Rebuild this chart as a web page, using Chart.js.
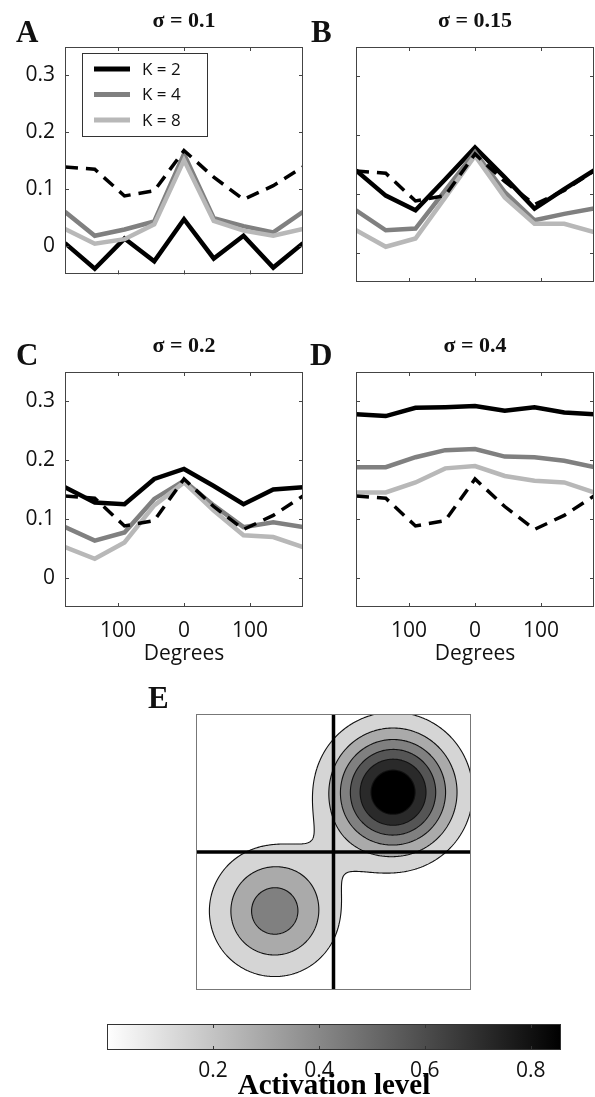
<!DOCTYPE html>
<html><head><meta charset="utf-8">
<script src="https://cdn.jsdelivr.net/npm/chart.js@4/dist/chart.umd.min.js"></script>
<style>
html,body{margin:0;padding:0;background:#fff;}
#page{position:relative;width:595px;height:1097px;overflow:hidden;background:#fff;}
canvas{position:absolute;display:block;}
</style></head><body><div id="page">
<canvas id="cA" width="305" height="297" style="left:0px;top:0px;width:305px;height:297px"></canvas>
<canvas id="cB" width="295" height="297" style="left:300px;top:0px;width:295px;height:297px"></canvas>
<canvas id="cC" width="305" height="342" style="left:0px;top:325px;width:305px;height:342px"></canvas>
<canvas id="cD" width="295" height="342" style="left:300px;top:325px;width:295px;height:342px"></canvas>
<canvas id="cE" width="340" height="324" style="left:140px;top:676px;width:340px;height:324px"></canvas>
<canvas id="cBar" width="505" height="97" style="left:90px;top:1000px;width:505px;height:97px"></canvas>
</div>
<script>
// ---------- data ----------
const angles = [-180, -135, -90, -45, 0, 45, 90, 135, 180];
const xTickValues = [-100, 0, 100];
const xTickLabels = ['100', '0', '100'];
const yTickValues = [0, 0.1, 0.2, 0.3];
const yTickLabels = ['0', '0.1', '0.2', '0.3'];
const seriesLabels = ['K = 2', 'K = 4', 'K = 8'];
const panelTitles = ['σ = 0.1', 'σ = 0.15', 'σ = 0.2', 'σ = 0.4'];
const panelLetters = ['A', 'B', 'C', 'D', 'E'];

const dashedRef = [0.139, 0.135, 0.088, 0.097, 0.168, 0.121, 0.082, 0.106, 0.139];

const k2A = [0.005, -0.040, 0.013, -0.027, 0.047, -0.022, 0.018, -0.038, 0.005];
const k4A = [0.060, 0.018, 0.029, 0.043, 0.162, 0.049, 0.035, 0.024, 0.060];
const k8A = [0.030, 0.004, 0.012, 0.038, 0.151, 0.044, 0.027, 0.018, 0.030];

const k2B = [0.140, 0.097, 0.072, 0.125, 0.179, 0.128, 0.075, 0.108, 0.140];
const k4B = [0.072, 0.038, 0.041, 0.106, 0.171, 0.103, 0.055, 0.066, 0.075];
const k8B = [0.038, 0.010, 0.024, 0.094, 0.165, 0.094, 0.049, 0.049, 0.035];

const k2C = [0.154, 0.128, 0.125, 0.168, 0.185, 0.156, 0.125, 0.150, 0.154];
const k4C = [0.086, 0.063, 0.077, 0.134, 0.165, 0.123, 0.086, 0.094, 0.086];
const k8C = [0.052, 0.032, 0.060, 0.123, 0.162, 0.114, 0.072, 0.069, 0.052];

const k2D = [0.278, 0.275, 0.289, 0.290, 0.292, 0.284, 0.290, 0.281, 0.278];
const k4D = [0.188, 0.188, 0.205, 0.217, 0.219, 0.206, 0.205, 0.199, 0.188];
const k8D = [0.145, 0.145, 0.162, 0.186, 0.190, 0.173, 0.165, 0.162, 0.145];

// activation field (panel E): two bumps
const bumpX = [78, -77];
const bumpY = [78, -77];
const bumpHeight = [0.86, 0.434];
const bumpWidth = [53, 54];
const contourLevels = [0.124, 0.247, 0.371, 0.494, 0.618, 0.742];
const crossX = [0];
const crossY = [0];

const cbarMax = 0.857;
const cbarTickValues = [0.2, 0.4, 0.6, 0.8];
const cbarTickLabels = ['0.2', '0.4', '0.6', '0.8'];

// ---------- styles ----------
const SANS = '"Open Sans", "DejaVu Sans", sans-serif';
const SERIF = '"Liberation Serif", "DejaVu Serif", serif';
const lineColors = ['#000000', '#808080', '#b8b8b8'];
const TXT = '#111';

const framePlugin = {
  id: 'frame',
  afterDatasetsDraw(chart, args, o) {
    if (!o || !o.show) return;
    const {ctx, chartArea: a} = chart;
    const L = o.tickLen || 0;
    ctx.save();
    ctx.strokeStyle = o.color; ctx.lineWidth = 1;
    ctx.beginPath();
    if (o.xTicks) chart.scales.x.ticks.forEach(t => {
      const p = Math.round(chart.scales.x.getPixelForValue(t.value)) + 0.5;
      ctx.moveTo(p, a.top); ctx.lineTo(p, a.top + L);
      ctx.moveTo(p, a.bottom); ctx.lineTo(p, a.bottom - L);
    });
    if (o.yTicks) chart.scales.y.ticks.forEach(t => {
      const p = Math.round(chart.scales.y.getPixelForValue(t.value)) + 0.5;
      ctx.moveTo(a.left, p); ctx.lineTo(a.left + L, p);
      ctx.moveTo(a.right, p); ctx.lineTo(a.right - L, p);
    });
    ctx.stroke();
    ctx.strokeRect(Math.round(a.left) + 0.5, Math.round(a.top) + 0.5,
      Math.round(a.right - a.left) - 1, Math.round(a.bottom - a.top) - 1);
    ctx.restore();
  }
};

const textPlugin = {
  id: 'panelText',
  afterDraw(chart, args, o) {
    if (!o) return;
    const {ctx, chartArea: a} = chart;
    ctx.save();
    ctx.fillStyle = TXT;
    if (o.title) {
      ctx.font = 'bold 22px ' + SERIF;
      ctx.textAlign = 'center'; ctx.textBaseline = 'middle';
      ctx.fillText(o.title, (a.left + a.right) / 2, a.top - 26);
    }
    if (o.letter) {
      ctx.font = 'bold 31px ' + SERIF;
      ctx.textAlign = 'left'; ctx.textBaseline = 'alphabetic';
      ctx.fillText(o.letter, o.letterX, o.letterY);
    }
    ctx.restore();
  }
};

const legendPlugin = {
  id: 'boxLegend',
  afterDraw(chart, args, o) {
    if (!o || !o.show) return;
    const ctx = chart.ctx;
    ctx.save();
    ctx.fillStyle = '#fff';
    ctx.fillRect(o.x, o.y, o.w, o.h);
    ctx.strokeStyle = '#333'; ctx.lineWidth = 1;
    ctx.strokeRect(o.x + 0.5, o.y + 0.5, o.w, o.h);
    ctx.font = '17px ' + SANS;
    ctx.textBaseline = 'middle'; ctx.textAlign = 'left';
    seriesLabels.forEach((lab, i) => {
      const ds = chart.data.datasets.find(d => d.label === lab);
      const yy = o.y + 16 + i * 25.5;
      ctx.strokeStyle = ds.borderColor; ctx.lineWidth = 5;
      ctx.beginPath(); ctx.moveTo(o.x + 12, yy); ctx.lineTo(o.x + 48, yy); ctx.stroke();
      ctx.fillStyle = TXT;
      ctx.fillText(ds.label, o.x + 60, yy + 1);
    });
    ctx.restore();
  }
};

function pts(vals) { return angles.map((a, i) => ({x: a, y: vals[i]})); }

function panel(id, series, idx, o) {
  const datasets = [
    {label: 'reference', data: pts(dashedRef), borderColor: '#000', borderWidth: 3.5, borderDash: [13, 8], order: 0},
    {label: seriesLabels[2], data: pts(series[2]), borderColor: lineColors[2], borderWidth: 4.5, order: 1},
    {label: seriesLabels[1], data: pts(series[1]), borderColor: lineColors[1], borderWidth: 4.5, order: 2},
    {label: seriesLabels[0], data: pts(series[0]), borderColor: lineColors[0], borderWidth: 4.5, order: 3}
  ];
  datasets.forEach(d => { d.pointRadius = 0; d.tension = 0; d.fill = false; d.clip = 0; d.borderJoinStyle = 'miter'; d.borderCapStyle = 'butt'; });
  return new Chart(document.getElementById(id), {
    type: 'line',
    data: {datasets},
    plugins: [framePlugin, textPlugin, legendPlugin],
    options: {
      responsive: false, animation: false, events: [],
      layout: {padding: {left: 0, right: o.padRight, top: 47, bottom: o.showX ? 0 : 15}},
      scales: {
        x: {
          type: 'linear', min: -180, max: 180,
          grid: {display: false, drawTicks: false}, border: {display: false},
          ticks: {display: o.showX, padding: 11, color: TXT, font: {family: SANS, size: 21},
                  callback: (v, i) => xTickLabels[i]},
          title: {display: o.showX, text: 'Degrees', color: TXT, font: {family: SANS, size: 21}, padding: 0},
          afterBuildTicks: s => { s.ticks = xTickValues.map(v => ({value: v})); },
          afterFit: s => { s.height = o.showX ? 60 : 0; }
        },
        y: {
          type: 'linear', min: -0.05, max: 0.35,
          grid: {display: false, drawTicks: false}, border: {display: false},
          ticks: {display: o.showY, padding: 10, color: TXT, font: {family: SANS, size: 21},
                  callback: (v, i) => yTickLabels[i]},
          afterBuildTicks: s => { s.ticks = yTickValues.map(v => ({value: v})); },
          afterFit: s => { s.width = o.yw; }
        }
      },
      plugins: {
        legend: {display: false}, tooltip: {enabled: false},
        frame: {show: true, color: '#444', tickLen: 4, xTicks: true, yTicks: true},
        panelText: {title: panelTitles[idx], letter: panelLetters[idx], letterX: o.lx, letterY: o.ly},
        boxLegend: {show: !!o.legend, x: 82, y: 53, w: 125, h: 83}
      }
    }
  });
}

panel('cA', [k2A, k4A, k8A], 0, {padRight: 2, showX: false, showY: true, yw: 65, lx: 16, ly: 42, legend: true});
panel('cB', [k2B, k4B, k8B], 1, {padRight: 1, showX: false, showY: false, yw: 56, lx: 11, ly: 42});
panel('cC', [k2C, k4C, k8C], 2, {padRight: 2, showX: true, showY: true, yw: 65, lx: 16, ly: 40});
panel('cD', [k2D, k4D, k8D], 3, {padRight: 1, showX: true, showY: false, yw: 56, lx: 10, ly: 40});

// ---------- panel E: contour map ----------
function activation(vx, vy) {
  let s = 0;
  for (let i = 0; i < bumpX.length; i++) {
    const dx = vx - bumpX[i], dy = vy - bumpY[i];
    s += bumpHeight[i] * Math.exp(-(dx * dx + dy * dy) / (2 * bumpWidth[i] * bumpWidth[i]));
  }
  return s;
}
function bandGray(k) { return Math.round(255 * (1 - k / contourLevels.length)); }

const contourPlugin = {
  id: 'contour',
  beforeDatasetsDraw(chart) {
    const {ctx, chartArea: a, scales: {x, y}} = chart;
    const L0 = Math.round(a.left), T0 = Math.round(a.top);
    const W = Math.round(a.right - a.left), H = Math.round(a.bottom - a.top);
    const off = document.createElement('canvas'); off.width = W; off.height = H;
    const octx = off.getContext('2d');
    const img = octx.createImageData(W, H);
    for (let j = 0; j < H; j++) {
      const vy = y.getValueForPixel(T0 + j + 0.5);
      for (let i = 0; i < W; i++) {
        const v = activation(x.getValueForPixel(L0 + i + 0.5), vy);
        let k = 0; while (k < contourLevels.length && v >= contourLevels[k]) k++;
        const g = bandGray(k), p = (j * W + i) * 4;
        img.data[p] = g; img.data[p + 1] = g; img.data[p + 2] = g; img.data[p + 3] = 255;
      }
    }
    octx.putImageData(img, 0, 0);
    const G = new Float64Array((W + 1) * (H + 1));
    for (let j = 0; j <= H; j++) {
      const vy = y.getValueForPixel(T0 + j);
      for (let i = 0; i <= W; i++) G[j * (W + 1) + i] = activation(x.getValueForPixel(L0 + i), vy);
    }
    ctx.save();
    ctx.beginPath(); ctx.rect(L0, T0, W, H); ctx.clip();
    ctx.drawImage(off, L0, T0);
    ctx.strokeStyle = '#111'; ctx.lineWidth = 1.1;
    ctx.beginPath();
    contourLevels.forEach(Lv => {
      for (let j = 0; j < H; j++) for (let i = 0; i < W; i++) {
        const a0 = G[j * (W + 1) + i], b0 = G[j * (W + 1) + i + 1];
        const c0 = G[(j + 1) * (W + 1) + i + 1], d0 = G[(j + 1) * (W + 1) + i];
        const pts2 = [];
        if ((a0 >= Lv) !== (b0 >= Lv)) pts2.push([i + (Lv - a0) / (b0 - a0), j]);
        if ((b0 >= Lv) !== (c0 >= Lv)) pts2.push([i + 1, j + (Lv - b0) / (c0 - b0)]);
        if ((d0 >= Lv) !== (c0 >= Lv)) pts2.push([i + (Lv - d0) / (c0 - d0), j + 1]);
        if ((a0 >= Lv) !== (d0 >= Lv)) pts2.push([i, j + (Lv - a0) / (d0 - a0)]);
        for (let q = 0; q + 1 < pts2.length; q += 2) {
          ctx.moveTo(L0 + pts2[q][0], T0 + pts2[q][1]);
          ctx.lineTo(L0 + pts2[q + 1][0], T0 + pts2[q + 1][1]);
        }
      }
    });
    ctx.stroke();
    ctx.restore();
  }
};

new Chart(document.getElementById('cE'), {
  type: 'scatter',
  data: {datasets: [
    {label: 'vertical', data: crossX.flatMap(v => [{x: v, y: -180}, {x: v, y: 180}]), showLine: true},
    {label: 'horizontal', data: crossY.flatMap(v => [{x: -180, y: v}, {x: 180, y: v}]), showLine: true}
  ].map(d => Object.assign(d, {borderColor: '#000', borderWidth: 3.5, pointRadius: 0, clip: 0}))},
  plugins: [contourPlugin, framePlugin, textPlugin],
  options: {
    responsive: false, animation: false, events: [],
    layout: {padding: {left: 56, right: 9, top: 38, bottom: 10}},
    scales: {
      x: {type: 'linear', min: -180, max: 180, display: false},
      y: {type: 'linear', min: -180, max: 180, display: false}
    },
    plugins: {
      legend: {display: false}, tooltip: {enabled: false},
      frame: {show: true, color: '#777', tickLen: 0},
      panelText: {letter: panelLetters[4], letterX: 8, letterY: 32}
    }
  }
});

// ---------- colorbar ----------
new Chart(document.getElementById('cBar'), {
  type: 'bar',
  data: {labels: [''], datasets: [{
    label: 'Activation level', data: [[0, cbarMax]], borderWidth: 0,
    barPercentage: 1, categoryPercentage: 1,
    backgroundColor: (c) => {
      const ch = c.chart; if (!ch.chartArea) return '#888';
      const sx = ch.scales.x;
      const g = ch.ctx.createLinearGradient(sx.getPixelForValue(0), 0, sx.getPixelForValue(cbarMax), 0);
      g.addColorStop(0, '#ffffff'); g.addColorStop(1, '#000000');
      return g;
    }
  }]},
  plugins: [framePlugin],
  options: {
    indexAxis: 'y', responsive: false, animation: false, events: [],
    layout: {padding: {left: 17, right: 34, top: 24, bottom: 0}},
    scales: {
      x: {
        type: 'linear', min: 0, max: cbarMax,
        grid: {display: false, drawTicks: false}, border: {display: false},
        ticks: {padding: 8, color: TXT, font: {family: SANS, size: 21}, callback: (v, i) => cbarTickLabels[i]},
        title: {display: true, text: 'Activation level', color: '#000', font: {family: SERIF, size: 29, weight: 'bold', lineHeight: 1}, padding: {top: 0, bottom: -4}},
        afterBuildTicks: s => { s.ticks = cbarTickValues.map(v => ({value: v})); },
        afterFit: s => { s.height = 47; }
      },
      y: {display: false}
    },
    plugins: {
      legend: {display: false}, tooltip: {enabled: false},
      frame: {show: true, color: '#333', tickLen: 4, xTicks: true, yTicks: false}
    }
  }
});
</script>
</body></html>
